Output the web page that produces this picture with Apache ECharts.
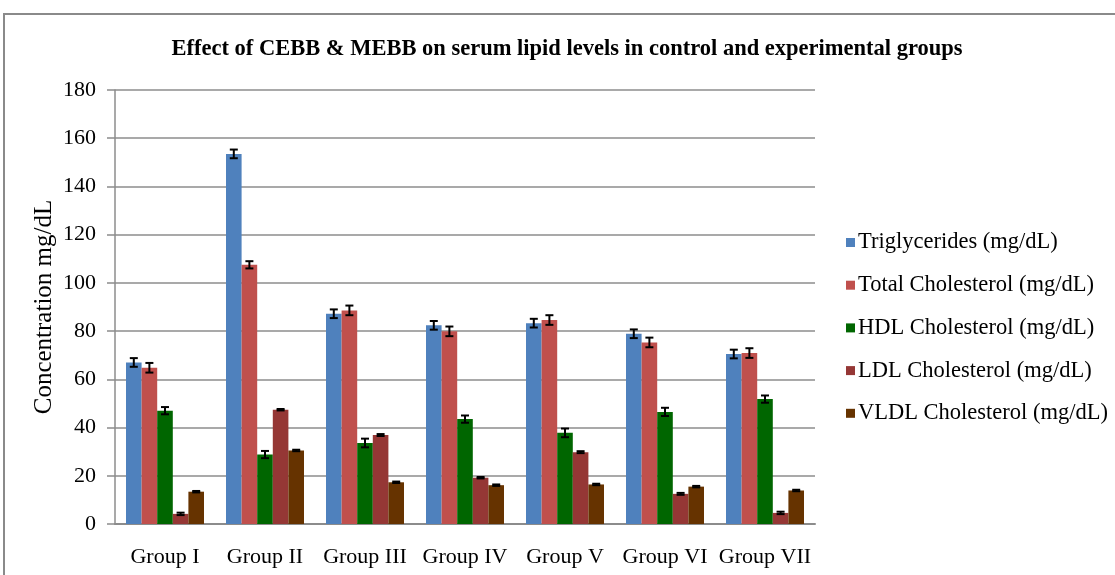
<!DOCTYPE html>
<html>
<head>
<meta charset="utf-8">
<script src="https://cdn.jsdelivr.net/npm/echarts@6/dist/echarts.min.js"></script>
<style>html,body{margin:0;padding:0;background:#fff;}#c{width:1115px;height:575px;}</style>
</head>
<body>
<div id="c"></div>
<script>
const categories = ['Group I','Group II','Group III','Group IV','Group V','Group VI','Group VII'];
const seriesNames = ['Triglycerides (mg/dL)','Total Cholesterol (mg/dL)','HDL Cholesterol (mg/dL)','LDL Cholesterol (mg/dL)','VLDL Cholesterol (mg/dL)'];
const triglycerides = [67, 153.5, 87.2, 82.4, 83.3, 78.9, 70.5];
const totalCholesterol = [64.8, 107.5, 88.6, 79.9, 84.6, 75.3, 70.9];
const hdl = [47, 28.8, 33.6, 43.5, 37.8, 46.5, 51.8];
const ldl = [4.2, 47.4, 36.9, 19.2, 29.8, 12.5, 4.6];
const vldl = [13.4, 30.5, 17.3, 16.1, 16.4, 15.5, 13.9];
const triglyceridesErr = [1.8, 1.8, 1.8, 1.8, 1.8, 1.8, 1.8];
const totalCholesterolErr = [2, 1.5, 2, 2, 2, 2, 2];
const hdlErr = [1.5, 1.5, 1.8, 1.5, 1.8, 1.7, 1.5];
const ldlErr = [0.5, 0.3, 0.4, 0.3, 0.4, 0.4, 0.5];
const vldlErr = [0.3, 0.3, 0.3, 0.3, 0.3, 0.3, 0.3];
const yTicks = {min: 0, max: 180, interval: 20};

const values = [triglycerides, totalCholesterol, hdl, ldl, vldl];
const errors = [triglyceridesErr, totalCholesterolErr, hdlErr, ldlErr, vldlErr];
const colors = ['#4F81BD', '#C0504D', '#006600', '#953735', '#663300'];
const font = 'Liberation Serif, Times New Roman, serif';
const GAP = 0.22;
const N = 5;

const series = [];
values.forEach((vals, s) => {
  series.push({
    name: seriesNames[s],
    type: 'bar',
    data: vals,
    barGap: '0%',
    barCategoryGap: (GAP * 100) + '%',
    itemStyle: {color: colors[s]}
  });
});
values.forEach((vals, s) => {
  series.push({
    type: 'custom',
    silent: true,
    z: 10,
    data: vals.map((v, i) => [i, v, errors[s][i]]),
    renderItem: function (params, api) {
      const ci = api.value(0), v = api.value(1), e = api.value(2);
      const band = api.size([1, 0])[0];
      const bw = band * (1 - GAP) / N;
      const c = api.coord([ci, v]);
      const x = c[0] - band * (1 - GAP) / 2 + bw * (s + 0.5);
      const hi = api.coord([ci, v + e])[1];
      const lo = api.coord([ci, v - e])[1];
      const cap = 4;
      const st = {stroke: '#000', lineWidth: 2};
      return {
        type: 'group',
        children: [
          {type: 'line', shape: {x1: x, y1: hi, x2: x, y2: lo}, style: st},
          {type: 'line', shape: {x1: x - cap, y1: hi, x2: x + cap, y2: hi}, style: st},
          {type: 'line', shape: {x1: x - cap, y1: lo, x2: x + cap, y2: lo}, style: st}
        ]
      };
    }
  });
});

const chart = echarts.init(document.getElementById('c'));
chart.setOption({
  animation: false,
  backgroundColor: '#fff',
  title: {
    text: 'Effect of CEBB & MEBB on serum lipid levels in control and experimental groups',
    left: 562, top: 33, textAlign: 'center',
    textStyle: {fontFamily: font, fontWeight: 'bold', fontSize: 22.5, color: '#000'}
  },
  legend: {
    orient: 'vertical',
    left: 841, top: 226,
    itemWidth: 9, itemHeight: 9, itemGap: 19.7,
    icon: 'rect',
    data: seriesNames,
    textStyle: {fontFamily: font, fontSize: 22.5, color: '#000', lineHeight: 22, padding: [0,0,0,-2]}
  },
  grid: {left: 115, right: 300, top: 90, bottom: 51, containLabel: false},
  xAxis: {
    type: 'category',
    data: categories,
    axisLine: {lineStyle: {color: '#8c8c8c', width: 2}},
    axisTick: {show: false},
    axisLabel: {fontFamily: font, fontSize: 22, color: '#000', margin: 22, interval: 0}
  },
  yAxis: {
    type: 'value',
    min: yTicks.min, max: yTicks.max, interval: yTicks.interval,
    name: 'Concentration mg/dL',
    nameLocation: 'middle',
    nameGap: 58,
    nameMoveOverlap: false,
    nameTextStyle: {fontFamily: font, fontSize: 25, color: '#000'},
    axisLine: {show: true, lineStyle: {color: '#8c8c8c', width: 1.5}},
    axisTick: {show: true, length: 8, lineStyle: {color: '#8c8c8c', width: 1.5}},
    axisLabel: {fontFamily: font, fontSize: 22, color: '#000', margin: 19},
    splitLine: {lineStyle: {color: '#8c8c8c', width: 1.5}}
  },
  graphic: [{
    type: 'rect', silent: true,
    shape: {x: 4, y: 14, width: 1300, height: 800},
    style: {fill: 'none', stroke: '#8a8a8a', lineWidth: 2}
  }],
  series: series
});
</script>
</body>
</html>
